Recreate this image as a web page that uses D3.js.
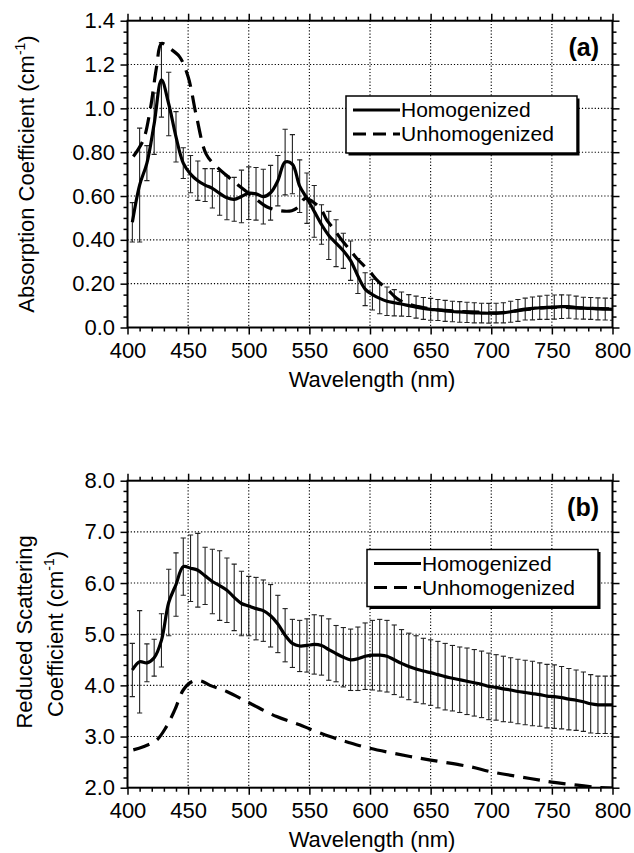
<!DOCTYPE html>
<html><head><meta charset="utf-8">
<script src="https://cdn.jsdelivr.net/npm/d3@7"></script>
<style>
html,body{margin:0;padding:0;background:#fff;}
svg{display:block;}
text{font-family:"Liberation Sans",Arial,Helvetica,sans-serif;fill:#000;}
</style></head>
<body>
<svg id="c" width="634" height="853"></svg>
<script>
// ---------- DATA ----------
const wavelengths = [404,410,416,422,428,434,440,446,452,458,464,470,476,482,488,494,500,506,512,518,524,530,536,542,548,554,560,566,572,578,584,590,596,602,608,614,620,626,632,638,644,650,656,662,668,674,680,686,692,698,704,710,716,722,728,734,740,746,752,758,764,770,776,782,788,794,800];

const absHomog = [0.48,0.65,0.75,0.93,1.13,1.02,0.87,0.75,0.70,0.67,0.65,0.635,0.612,0.592,0.585,0.598,0.613,0.61,0.597,0.615,0.67,0.755,0.745,0.645,0.59,0.53,0.47,0.42,0.385,0.35,0.305,0.235,0.175,0.15,0.133,0.12,0.113,0.107,0.1,0.093,0.087,0.083,0.08,0.076,0.073,0.071,0.069,0.067,0.066,0.065,0.066,0.067,0.072,0.078,0.084,0.087,0.09,0.092,0.093,0.095,0.095,0.091,0.088,0.087,0.085,0.084,0.083];
const absHomogErr = [0.09,0.26,0.08,0.14,0.17,0.145,0.115,0.07,0.085,0.09,0.075,0.09,0.10,0.10,0.10,0.12,0.12,0.12,0.125,0.125,0.115,0.15,0.135,0.12,0.115,0.118,0.09,0.11,0.107,0.08,0.09,0.08,0.075,0.07,0.07,0.065,0.06,0.055,0.05,0.05,0.05,0.05,0.048,0.048,0.047,0.047,0.046,0.046,0.045,0.045,0.045,0.046,0.048,0.05,0.05,0.052,0.053,0.055,0.055,0.054,0.053,0.052,0.05,0.05,0.05,0.05,0.05];

const absUnWl = [404.8,413,418.6,424,428,435,443,450,457,465,473.6,483,493,503.8,514.8,525.8,535.5,541,546.5,554.7,560,564.4,569.8,576.7,583.6,589,598.7,607,615,622,630,640,650,670,690,705,715,730,750,770,800];
const absUn = [0.78,0.855,0.99,1.19,1.296,1.273,1.235,1.144,0.96,0.79,0.733,0.688,0.642,0.596,0.551,0.533,0.533,0.55,0.589,0.566,0.536,0.49,0.452,0.399,0.353,0.316,0.262,0.209,0.171,0.133,0.11,0.095,0.085,0.075,0.07,0.066,0.072,0.082,0.092,0.09,0.085];

const scatHomog = [4.30,4.46,4.44,4.54,4.88,5.62,5.97,6.32,6.29,6.25,6.14,6.03,5.95,5.86,5.72,5.60,5.55,5.50,5.46,5.36,5.20,4.98,4.82,4.77,4.78,4.80,4.78,4.70,4.62,4.55,4.50,4.52,4.57,4.59,4.59,4.57,4.50,4.43,4.37,4.32,4.28,4.25,4.21,4.17,4.14,4.11,4.08,4.05,4.02,3.98,3.96,3.93,3.91,3.88,3.86,3.84,3.82,3.79,3.78,3.76,3.73,3.71,3.68,3.64,3.62,3.62,3.62];
const scatHomogErr = [0.52,1.0,0.37,0.36,0.52,0.65,0.62,0.56,0.65,0.72,0.56,0.63,0.68,0.63,0.65,0.63,0.58,0.61,0.60,0.61,0.56,0.52,0.47,0.50,0.52,0.58,0.58,0.60,0.55,0.58,0.60,0.62,0.65,0.68,0.70,0.70,0.68,0.66,0.65,0.65,0.64,0.64,0.65,0.65,0.64,0.64,0.65,0.65,0.65,0.65,0.64,0.64,0.63,0.63,0.63,0.63,0.62,0.62,0.62,0.61,0.60,0.59,0.58,0.57,0.56,0.56,0.56];

const scatUnWl = [404.8,413,424,432,439,446,453,460,468,481.8,501,523,542,550,567,583,600,633,650,682.5,700,732,750,771,790,800];
const scatUn = [2.74,2.80,2.93,3.19,3.52,3.91,4.07,4.09,4.0,3.88,3.65,3.39,3.23,3.15,3.0,2.88,2.77,2.61,2.54,2.41,2.31,2.18,2.11,2.05,2.0,1.99];

const xTicks = [400,450,500,550,600,650,700,750,800];
const xTickLabels = ["400","450","500","550","600","650","700","750","800"];
const absTicks = [0,0.2,0.4,0.6,0.8,1.0,1.2,1.4];
const absTickLabels = ["0.0","0.20","0.40","0.60","0.80","1.0","1.2","1.4"];
const scatTicks = [2,3,4,5,6,7,8];
const scatTickLabels = ["2.0","3.0","4.0","5.0","6.0","7.0","8.0"];
const seriesNames = ["Homogenized","Unhomogenized"];

// ---------- DRAW ----------
const svg = d3.select("#c");
const FONT = 22;
const X0 = 127.5, X1 = 612.5;

function panel(opt){
  const x = d3.scaleLinear().domain([400,800]).range([X0,X1]);
  const y = d3.scaleLinear().domain(opt.ydom).range([opt.bottom,opt.top]);
  const g = svg.append("g");
  const clipId = "clip"+opt.id;
  svg.append("clipPath").attr("id",clipId).append("rect")
    .attr("x",X0).attr("y",opt.top).attr("width",X1-X0).attr("height",opt.bottom-opt.top);

  // grid
  const grid = g.append("g").attr("stroke","#000").attr("stroke-width",1.1).attr("stroke-dasharray","1.2,2");
  xTicks.slice(1,-1).forEach(v=>grid.append("line").attr("x1",x(v)).attr("x2",x(v)).attr("y1",opt.top).attr("y2",opt.bottom));
  opt.ticks.slice(1,-1).forEach(v=>grid.append("line").attr("x1",X0).attr("x2",X1).attr("y1",y(v)).attr("y2",y(v)));

  const plot = g.append("g").attr("clip-path",`url(#${clipId})`);
  // error bars
  const eb = plot.append("g").attr("stroke","#222").attr("stroke-width",1.1).attr("fill","none");
  wavelengths.forEach((w,i)=>{
    const m = opt.homog[i], e = opt.err[i];
    const xx = x(w), yt = y(m+e), yb = y(m-e);
    eb.append("line").attr("x1",xx).attr("x2",xx).attr("y1",yt).attr("y2",yb);
    eb.append("line").attr("x1",xx-2.6).attr("x2",xx+2.6).attr("y1",yt).attr("y2",yt);
    eb.append("line").attr("x1",xx-2.6).attr("x2",xx+2.6).attr("y1",yb).attr("y2",yb);
  });
  const line = d3.line().x(d=>x(d[0])).y(d=>y(d[1])).curve(d3.curveCatmullRom.alpha(0.5));
  plot.append("path").datum(opt.unWl.map((w,i)=>[w,opt.un[i]]))
    .attr("d",line).attr("fill","none").attr("stroke","#000").attr("stroke-width",3.2)
    .attr("stroke-dasharray","17,9");
  plot.append("path").datum(wavelengths.map((w,i)=>[w,opt.homog[i]]))
    .attr("d",line).attr("fill","none").attr("stroke","#000").attr("stroke-width",3.2)
    .attr("stroke-linejoin","round");

  // axes
  const minorX = d3.range(0,41).map(i=>400+i*10).filter(v=>v%50!==0);
  const minorY = opt.minor;
  function styleAxis(a){ a.select(".domain").remove(); a.selectAll("line").attr("stroke","#000").attr("stroke-width",1.5); a.attr("font-size",FONT).attr("font-family",null); }
  const bot = g.append("g").attr("transform",`translate(0,${opt.bottom})`)
    .call(d3.axisBottom(x).tickValues(xTicks).tickSize(7).tickPadding(7.4).tickFormat((d,i)=>xTickLabels[i]));
  styleAxis(bot);
  const botm = g.append("g").attr("transform",`translate(0,${opt.bottom})`)
    .call(d3.axisBottom(x).tickValues(minorX).tickSize(4).tickFormat(""));
  styleAxis(botm);
  const topA = g.append("g").attr("transform",`translate(0,${opt.top})`)
    .call(d3.axisTop(x).tickValues(xTicks).tickSize(7).tickFormat(""));
  styleAxis(topA);
  const topm = g.append("g").attr("transform",`translate(0,${opt.top})`)
    .call(d3.axisTop(x).tickValues(minorX).tickSize(4).tickFormat(""));
  styleAxis(topm);
  const left = g.append("g").attr("transform",`translate(${X0},0)`)
    .call(d3.axisLeft(y).tickValues(opt.ticks).tickSize(7).tickPadding(5.5).tickFormat((d,i)=>opt.labels[i]));
  styleAxis(left);
  const leftm = g.append("g").attr("transform",`translate(${X0},0)`)
    .call(d3.axisLeft(y).tickValues(minorY).tickSize(4).tickFormat(""));
  styleAxis(leftm);
  const right = g.append("g").attr("transform",`translate(${X1},0)`)
    .call(d3.axisRight(y).tickValues(opt.ticks).tickSize(7).tickFormat(""));
  styleAxis(right);
  const rightm = g.append("g").attr("transform",`translate(${X1},0)`)
    .call(d3.axisRight(y).tickValues(minorY).tickSize(4).tickFormat(""));
  styleAxis(rightm);
  g.selectAll(".tick text").attr("fill","#000");

  // frame
  g.append("rect").attr("x",X0).attr("y",opt.top).attr("width",X1-X0).attr("height",opt.bottom-opt.top)
    .attr("fill","none").attr("stroke","#000").attr("stroke-width",2);

  // x title
  g.append("text").attr("x",(X0+X1)/2+2).attr("y",opt.bottom+59).attr("text-anchor","middle")
    .attr("font-size",FONT).text("Wavelength (nm)");

  // panel letter
  g.append("text").attr("x",599).attr("y",opt.top+35).attr("text-anchor","end")
    .attr("font-size",25).attr("font-weight","bold").text(opt.letter);

  // legend
  const L = g.append("g").attr("transform",`translate(${opt.lx},${opt.ly})`);
  L.append("rect").attr("x",2.5).attr("y",2.5).attr("width",231).attr("height",57).attr("fill","#000");
  L.append("rect").attr("x",0).attr("y",0).attr("width",231).attr("height",57).attr("fill","#fff").attr("stroke","#000").attr("stroke-width",1.5);
  L.append("line").attr("x1",7).attr("x2",54).attr("y1",14).attr("y2",14).attr("stroke","#000").attr("stroke-width",3);
  L.append("line").attr("x1",7).attr("x2",54).attr("y1",38).attr("y2",38).attr("stroke","#000").attr("stroke-width",3).attr("stroke-dasharray","13,7");
  L.append("text").attr("x",55).attr("y",21).attr("font-size",21).text(seriesNames[0]);
  L.append("text").attr("x",55).attr("y",45).attr("font-size",21).text(seriesNames[1]);
  return {x,y,g};
}

const pa = panel({id:"a", top:20.7, bottom:327.5, ydom:[0,1.4], ticks:absTicks, labels:absTickLabels,
  minor:d3.range(0,29).map(i=>i*0.05).filter((v,i)=>i%4!==0),
  homog:absHomog, err:absHomogErr, unWl:absUnWl, un:absUn, letter:"(a)", lx:346, ly:96});
const pb = panel({id:"b", top:480.7, bottom:787.7, ydom:[2,8], ticks:scatTicks, labels:scatTickLabels,
  minor:d3.range(0,31).map(i=>2+i*0.2).filter((v,i)=>i%5!==0),
  homog:scatHomog, err:scatHomogErr, unWl:scatUnWl, un:scatUn, letter:"(b)", lx:367, ly:549.5});

// y titles
const sup = "-1";
const ta = svg.append("text").attr("transform","translate(34,174) rotate(-90)").attr("text-anchor","middle").attr("font-size",FONT);
ta.append("tspan").text("Absorption Coefficient (cm");
ta.append("tspan").attr("font-size",14).attr("dy",-9).text(sup);
ta.append("tspan").attr("dy",9).text(")");

svg.append("text").attr("transform","translate(32,632) rotate(-90)").attr("text-anchor","middle").attr("font-size",FONT).text("Reduced Scattering");
const tb = svg.append("text").attr("transform","translate(63,634) rotate(-90)").attr("text-anchor","middle").attr("font-size",FONT);
tb.append("tspan").text("Coefficient (cm");
tb.append("tspan").attr("font-size",14).attr("dy",-9).text(sup);
tb.append("tspan").attr("dy",9).text(")");
</script>
</body></html>
